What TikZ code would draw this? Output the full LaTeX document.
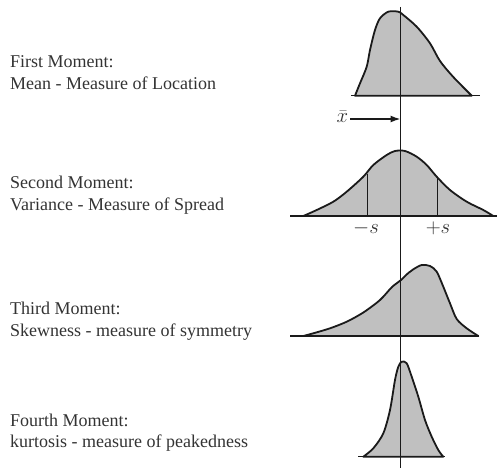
\documentclass[tikz,border=0pt]{standalone}
\usepackage{fontspec}
\setmainfont{Liberation Serif}
\usetikzlibrary{arrows.meta}
\definecolor{txt}{HTML}{333333}
\definecolor{ink}{HTML}{1A1A1A}
\definecolor{areafill}{HTML}{C0C0C0}
\tikzset{
  lbl/.style={anchor=base west, inner sep=0pt, text=txt, font=\fontsize{18}{21}\selectfont},
  curve/.style={draw=ink, line width=1.8pt, fill=areafill, line join=round},
  axisline/.style={draw=ink, line width=1.5pt},
  sym/.style={inner sep=0pt, text=txt, font=\fontsize{20}{24}\selectfont}
}
\begin{document}
\begin{tikzpicture}[x=1pt,y=-1pt]
\useasboundingbox (0,0) rectangle (497,468);
% labels
\node[lbl] (t1a) at (10,68) {First Moment:};
\node[lbl] (t1b) at (10,90) {Mean - Measure of Location};
\node[lbl] (t2a) at (10,188) {Second Moment:};
\node[lbl] (t2b) at (10,210) {Variance - Measure of Spread};
\node[lbl] (t3a) at (10,314) {Third Moment:};
\node[lbl] (t3b) at (10,336) {Skewness - measure of symmetry};
\node[lbl] (t4a) at (10,426) {Fourth Moment:};
\node[lbl] (t4b) at (10,447) {kurtosis - measure of peakedness};
% curve 1
\path[curve] plot[smooth, tension=0.5] coordinates {(355,95.7) (360,83.3) (366.7,66.7) (370,50) (375,30) (380,18.3) (388.3,11.7) (398.3,11.7) (403.3,15) (416.7,26.7) (430,43.3) (440,61) (453.3,77) (471.7,95.7)} -- cycle;
\coordinate (b1l) at (351,95.7);
\coordinate (b1r) at (480,95.7);
\draw[axisline] (b1l) -- (b1r);
% curve 2
\path[curve] plot[smooth, tension=0.5] coordinates {(303.3,216) (316.7,210) (333.3,201.7) (346.7,191.7) (363.3,176.7) (373.3,165) (386.7,155) (395,151) (405,151) (416.7,156.7) (426.7,165) (436.7,176.7) (450,190) (466.7,201.7) (483.3,210) (493.3,216)} -- cycle;
\coordinate (b2l) at (290,216);
\coordinate (b2r) at (497,216);
\draw[axisline] (b2l) -- (b2r);
\coordinate (sL) at (367.3,173.5);
\coordinate (sLb) at (367.3,216);
\coordinate (sR) at (437.3,177.5);
\coordinate (sRb) at (437.3,216);
\draw[axisline] (sL) -- (sLb);
\draw[axisline] (sR) -- (sRb);
\node[sym] (ms) at (366,228) {$-s$};
\node[sym] (ps) at (438,228) {$+s$};
% curve 3
\path[curve] plot[smooth, tension=0.5] coordinates {(303.3,336) (313.3,333.3) (330,328.3) (346.7,321.7) (363.3,312.5) (380,300) (392,287) (401,280) (408.3,273) (413.3,269.3) (421.7,265) (430,266) (436.7,271.7) (443.3,286.7) (450,303.3) (456.7,319) (466.7,328.3) (478.3,336)} -- cycle;
\coordinate (b3l) at (290,336);
\coordinate (b3r) at (479,336);
\draw[axisline] (b3l) -- (b3r);
% curve 4
\path[curve] plot[smooth, tension=0.5] coordinates {(363.3,456.7) (373.3,448.3) (383.3,433.3) (390,410) (395,380) (398.3,366.7) (401.7,361.7) (406.7,363.3) (411.7,376.7) (418.3,396.7) (425,420) (431.7,436.7) (438.3,450) (443.3,456.7)} -- cycle;
\coordinate (b4l) at (358,456.7);
\coordinate (b4r) at (445,456.7);
\draw[axisline] (b4l) -- (b4r);
% mean line
\coordinate (mtop) at (400.5,7);
\coordinate (mbot) at (400.5,468);
\draw[axisline] (mtop) -- (mbot);
% x bar arrow
\node[sym] (xbar) at (342.5,117) {$\bar{x}$};
\coordinate (arrend) at (400.5,119);
\draw[axisline, -{Latex[length=10pt,width=7pt]}] (xbar.east) ++(2,2) -- (arrend);
\end{tikzpicture}
\end{document}
